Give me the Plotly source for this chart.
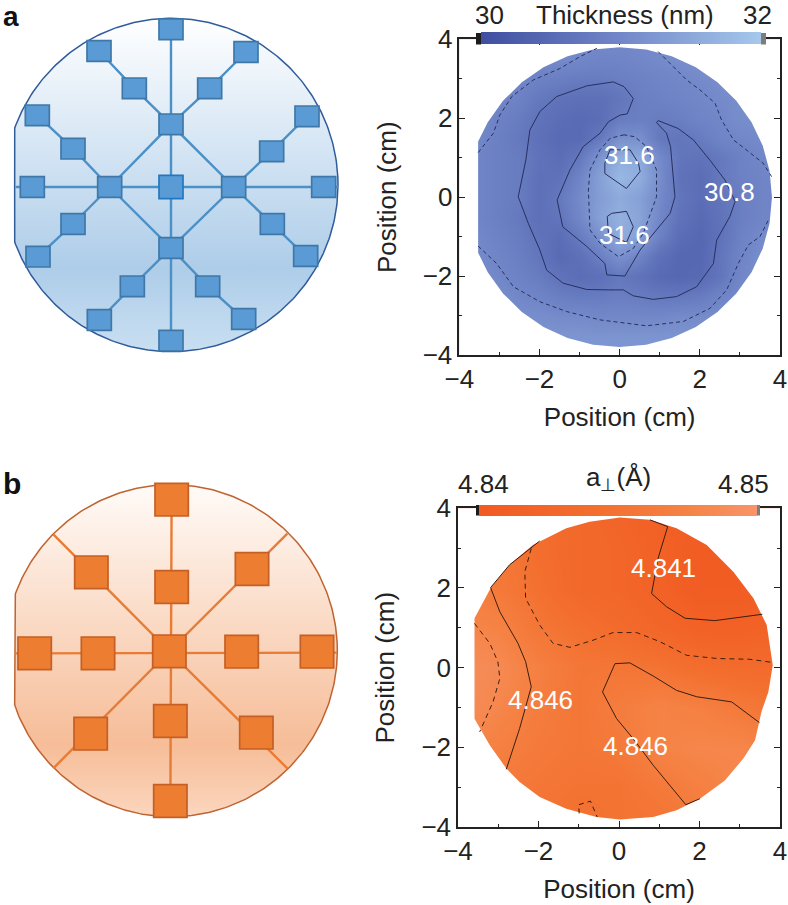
import plotly.graph_objects as go
import numpy as np

W, H = 788, 905

# ---------- wafer maps: grids ----------
thick_x = [-4,-3.5,-3,-2.5,-2,-1.5,-1,-.5,0,.5,1,1.5,2,2.5,3,3.5,4]
thick_y = [4,3.5,3,2.5,2,1.5,1,.5,0,-.5,-1,-1.5,-2,-2.5,-3,-3.5,-4]
thick_z = [
 [31.05]*17,
 [31.05,31.05,31.05,31.05,31.05,31.05,31.0,30.95,30.95,31.0,31.05,31.1,31.15,31.2,31.2,31.2,31.2],
 [31.05,31.05,31.05,31.0,30.9,30.85,30.8,30.8,30.85,30.9,30.95,31.0,31.05,31.1,31.15,31.2,31.2],
 [31.1,31.05,31.0,30.9,30.75,30.65,30.6,30.6,30.7,30.85,30.9,30.95,31.0,31.05,31.1,31.15,31.15],
 [31.05,31.05,30.9,30.8,30.65,30.55,30.5,30.55,30.8,30.85,30.8,30.85,30.95,31.0,31.1,31.1,31.1],
 [31.0,31.0,30.85,30.75,30.6,30.5,30.5,30.75,31.15,31.15,30.75,30.7,30.8,30.95,31.0,31.05,31.05],
 [30.95,30.95,30.85,30.8,30.65,30.55,30.75,31.2,31.6,31.55,31.05,30.7,30.65,30.75,30.9,31.0,31.0],
 [30.95,30.95,30.85,30.8,30.6,30.65,30.95,31.4,31.75,31.6,31.1,30.65,30.55,30.75,30.9,30.95,31.0],
 [30.95,30.95,30.85,30.8,30.6,30.75,31.05,31.35,31.55,31.4,31.05,30.7,30.55,30.7,30.85,30.95,31.0],
 [30.95,30.95,30.85,30.75,30.6,30.7,31.0,31.4,31.65,31.45,31.0,30.65,30.5,30.65,30.85,30.95,31.0],
 [31.0,31.0,30.9,30.8,30.65,30.55,30.8,31.15,31.6,31.4,30.9,30.55,30.45,30.65,30.9,31.05,31.05],
 [31.05,31.05,30.95,30.85,30.7,30.5,30.6,30.85,31.15,30.95,30.6,30.45,30.45,30.7,30.95,31.1,31.1],
 [31.1,31.1,31.0,30.9,30.8,30.65,30.55,30.6,30.75,30.65,30.5,30.45,30.5,30.7,31.0,31.1,31.1],
 [31.1,31.1,31.1,31.0,30.95,30.85,30.8,30.8,30.85,30.8,30.75,30.75,30.8,30.95,31.05,31.15,31.15],
 [31.15,31.15,31.15,31.1,31.1,31.05,31.05,31.0,31.0,31.0,31.0,31.05,31.05,31.1,31.1,31.15,31.15],
 [31.2]*17,
 [31.25]*17,
]
lat_x = [-4,-3,-2,-1,0,1,2,3,4]
lat_y = [4,3,2,1,0,-1,-2,-3,-4]
lat_z = [
 [4.845,4.845,4.844,4.843,4.842,4.841,4.841,4.841,4.841],
 [4.846,4.846,4.844,4.843,4.8425,4.8415,4.8405,4.8405,4.841],
 [4.847,4.846,4.8445,4.843,4.8425,4.8415,4.8405,4.8405,4.841],
 [4.848,4.8475,4.8455,4.8445,4.8435,4.8425,4.8415,4.8415,4.842],
 [4.849,4.8485,4.847,4.8455,4.8455,4.845,4.844,4.8435,4.8435],
 [4.849,4.848,4.8465,4.8455,4.8465,4.8475,4.847,4.846,4.845],
 [4.848,4.847,4.846,4.8455,4.846,4.8475,4.848,4.848,4.847],
 [4.847,4.846,4.8455,4.845,4.845,4.846,4.847,4.848,4.847],
 [4.846,4.845,4.8445,4.8445,4.845,4.845,4.846,4.846,4.846],
]

# wafer outlines on the maps (cm)
edge_a_x = [-3.53,-3.29,-2.91,-2.44,-1.90,-1.30,-0.66,0,0.66,1.30,1.90,2.44,2.91,3.29,3.57,3.74,3.80,3.74,3.57,3.29,2.91,2.44,1.90,1.30,0.66,0,-0.66,-1.30,-1.90,-2.44,-2.91,-3.29,-3.53]
edge_a_y = [1.41,1.90,2.44,2.91,3.29,3.57,3.74,3.80,3.74,3.57,3.29,2.91,2.44,1.90,1.30,0.66,0,-0.66,-1.30,-1.90,-2.44,-2.91,-3.29,-3.57,-3.74,-3.80,-3.74,-3.57,-3.29,-2.91,-2.44,-1.90,-1.41]
edge_b_x = [-3.59,-3.17,-2.72,-2.14,-1.31,-0.73,0.02,0.77,1.43,2.18,2.84,3.34,3.67,3.82,3.71,3.54,3.38,3.09,2.63,2.01,1.43,0.85,0.02,-0.56,-1.31,-1.97,-2.47,-2.80,-3.21,-3.59]
edge_b_y = [1.24,2.03,2.58,3.08,3.50,3.66,3.77,3.71,3.50,3.08,2.41,1.74,1.07,0.06,-0.61,-1.11,-1.82,-2.28,-2.83,-3.29,-3.58,-3.75,-3.81,-3.75,-3.54,-3.25,-2.87,-2.53,-1.95,-1.28]

# contour lines on the thickness map (cm)
a_dash1_x = [-3.53,-3.15,-2.99,-2.69,-2.15,-1.49,-0.99,-0.57]
a_dash1_y = [1.13,1.62,2.08,2.55,2.97,3.26,3.56,3.77]
a_dash2_x = [0.96,1.34,1.67,2.0,2.38,2.54,2.84,3.17,3.58,3.79]
a_dash2_y = [3.69,3.31,2.97,2.72,2.38,1.96,1.45,1.19,0.86,0.52]
a_dash3_x = [-3.53,-3.07,-2.65,-1.99,-1.32,-0.49,0.67,1.59,2.25,2.67,2.96,3.21,3.50,3.71]
a_dash3_y = [-1.24,-1.68,-2.27,-2.65,-2.90,-3.11,-3.26,-3.15,-2.82,-2.35,-1.68,-1.21,-1.0,-0.58]
a_dash4_x = [0.11,-0.24,-0.49,-0.74,-0.78,-0.74,-0.49,-0.03,0.34,0.59,0.92,0.92,0.67,0.38,0.11]
a_dash4_y = [1.58,1.49,1.20,0.69,0.18,-0.83,-1.17,-1.51,-1.30,-0.92,0.01,0.69,1.28,1.53,1.58]
a_solid1_x = [0.34,0.11,-0.16,-0.82,-1.57,-1.99,-2.24,-2.34,-2.53,-2.28,-1.99,-1.82,-1.41,-0.82,-0.28,0.09,0.34,0.84,1.42,1.92,2.34,2.42,2.75,2.88,2.63,2.25,1.84,1.46,0.96,0.92,1.17,1.27,1.38,1.26,0.92,0.51,0.13,-0.32,-0.37,-0.82,-1.42,-1.56,-1.24,-0.91,-0.49,-0.28,0.01,0.19,0.34]
a_solid1_y = [2.50,2.80,2.92,2.82,2.55,2.17,1.70,0.94,0.01,-0.66,-1.34,-1.85,-2.18,-2.34,-2.35,-2.35,-2.50,-2.59,-2.52,-2.27,-1.68,-1.09,-0.49,-0.11,0.43,0.94,1.45,1.74,1.94,1.89,1.62,1.28,0.01,-0.41,-0.83,-1.34,-2.0,-1.97,-1.68,-1.25,-0.75,-0.07,0.69,1.28,1.62,1.91,2.08,2.11,2.50]
a_solid2_x = [-0.37,0.17,0.51,0.47,0.26,-0.24,-0.37,-0.37]
a_solid2_y = [0.60,0.22,0.65,0.86,1.20,1.20,0.86,0.60]
a_solid3_x = [-0.31,-0.20,0.17,0.34,0.17,-0.28,-0.31]
a_solid3_y = [-0.49,-0.41,-0.36,-0.75,-1.15,-0.92,-0.49]

# contour lines on the lattice map (cm)
b_solid1_x = [0.77,1.21,0.97,0.81,1.18,1.64,2.38,3.56]
b_solid1_y = [3.71,3.54,2.74,1.86,1.53,1.24,1.18,1.34]
b_solid2_x = [-1.97,-2.72,-3.19,-2.96,-2.51,-2.32,-2.18,-2.47,-2.80]
b_solid2_y = [3.18,2.58,2.01,1.40,0.61,0.15,-0.48,-1.53,-2.55]
b_solid3_x = [3.49,2.80,1.93,1.43,0.85,0.27,-0.10,-0.41,-0.06,0.35,0.85,1.66,2.01]
b_solid3_y = [-1.38,-0.86,-0.73,-0.57,-0.21,0.12,0.10,-0.61,-1.28,-1.78,-2.45,-3.44,-3.29]
b_dash1_x = [-2.18,-2.34,-2.32,-1.97,-1.64,-1.22,-0.64,-0.15,0.44,1.02,1.68,2.43,3.25,3.82]
b_dash1_y = [2.99,2.41,1.74,1.07,0.61,0.51,0.69,0.88,0.88,0.65,0.31,0.23,0.21,0.13]
b_dash2_x = [-3.59,-3.21,-3.01,-2.96,-3.13,-3.46]
b_dash2_y = [1.11,0.61,0.15,-0.27,-0.86,-1.61]
b_dash3_x = [-0.99,-1.0,-0.71,-0.54]
b_dash3_y = [-3.66,-3.44,-3.35,-3.75]

# map labels
a_label_text = ["31.6","31.6","30.8"]
a_label_x = [0.24,0.13,2.75]
a_label_y = [1.07,-0.96,0.14]
b_label_text = ["4.841","4.846","4.846"]
b_label_x = [1.10,-1.94,0.42]
b_label_y = [2.49,-0.80,-1.97]

# ---------- schematics: site layouts in sketch units ----------
a_sites_x = [513,297,738,403,629,513,112,921,219,815,329,701,97,971,219,817,114,917,513,397,623,298,731,513]
a_sites_y = [88,153,156,265,265,373,346,349,446,454,561,561,561,561,672,672,770,768,744,859,859,960,957,1022]
a_centre = (513,561)
a_links = [
 ([513,513],[88,1022]), ([47,1014],[561,561]),
 ([329,513,701,513,329],[561,373,561,744,561]),
 ([297,403,513],[153,265,373]), ([738,629,513],[156,265,373]),
 ([112,219,329],[346,446,561]), ([921,815,701],[349,454,561]),
 ([114,219,329],[770,672,561]), ([917,817,701],[768,672,561]),
 ([298,397,513],[960,859,744]), ([731,623,513],[957,859,744]),
]
b_sites_x = [515,274,756,515,104,294,508,725,951,272,769,511,511]
b_sites_y = [104,322,312,366,565,565,559,560,560,806,803,768,1008]
b_links = [
 ([515,511],[62,1052]), ([44,1012],[565,563]),
 ([160,508,862],[208,559,206]), ([160,508,862],[910,559,910]),
]

FONT = "Liberation Sans"
INK = "#222222"

fig = go.Figure()
ax = lambda n: ("x" if n == 1 else f"x{n}", "y" if n == 1 else f"y{n}")

def px_x(v): return v / W
def px_y(v): return 1 - v / H

def wafer(cx, cy, r, flat):
    th = np.radians(np.linspace(0, 360, 361))
    xs, ys = cx + r*np.cos(th), cy + r*np.sin(th)
    xs = np.maximum(xs, flat)
    return xs, ys

def schematic(n, sx, sy, links, half_w, half_h, outline, grad, fill, edge, link, cx, cy, r, flat, centre=None):
    xa, ya = ax(n)
    xs, ys = wafer(cx, cy, r, flat)
    fig.add_trace(go.Scatter(x=xs, y=ys, xaxis=xa, yaxis=ya, mode="lines", fill="toself",
        line=dict(color=outline, width=1.5), hoverinfo="skip",
        fillgradient=dict(type="vertical", colorscale=grad)))
    for lx, ly in links:
        fig.add_trace(go.Scatter(x=lx, y=ly, xaxis=xa, yaxis=ya, mode="lines",
            line=dict(color=link, width=2.4), hoverinfo="skip"))
    for x, y in zip(sx, sy):
        fig.add_shape(type="rect", xref=xa, yref=ya, x0=x-half_w, x1=x+half_w, y0=y-half_h, y1=y+half_h,
            fillcolor=fill, line=dict(color=edge, width=1.7))
    if centre:
        fig.add_shape(type="rect", xref=xa, yref=ya, x0=centre[0]-36, x1=centre[0]+36, y0=centre[1]-35, y1=centre[1]+35,
            fillcolor=fill, line=dict(color="#2178c0", width=1.7))

schematic(1, a_sites_x, a_sites_y, a_links, 36, 31, "#2f5c9c",
    [[0,"#c9dff1"],[0.25,"#aecde9"],[1,"#ffffff"]], "#5b9bd5", "#3f78a8", "#4b90c6", 514, 555, 500, 44, a_centre)
schematic(3, b_sites_x, b_sites_y, b_links, 50, 49, "#bf6330",
    [[0,"#fbd6be"],[0.22,"#f6bd98"],[1,"#fffbf8"]], "#ed7d31", "#c55f25", "#e97c35", 514, 557, 498, 44)

def wafer_map(n, x, y, z, zmin, zmax, scale, ex, ey, cb):
    xa, ya = ax(n)
    fig.add_trace(go.Heatmap(x=x, y=y, z=z, xaxis=xa, yaxis=ya, zmin=zmin, zmax=zmax, zsmooth="best",
        colorscale=scale, hoverinfo="skip",
        colorbar=dict(orientation="h", thickness=cb["h"], thicknessmode="pixels", len=cb["x1"]-cb["x0"], lenmode="pixels",
            x=px_x(cb["x0"]), xanchor="left", y=px_y(cb["y1"]), yanchor="bottom", xpad=0, ypad=0,
            outlinewidth=0, ticks="", showticklabels=False)))
    # white surround outside the wafer edge
    mx = list(ex) + [ex[0], -4.4, -4.4, 4.4, 4.4, -4.4, -4.4, ex[0]]
    my = list(ey) + [ey[0], ey[0], -4.4, -4.4, 4.4, 4.4, ey[0], ey[0]]
    fig.add_trace(go.Scatter(x=mx, y=my, xaxis=xa, yaxis=ya, mode="lines", fill="toself", fillcolor="white",
        line=dict(width=0), hoverinfo="skip"))

def lines(n, pairs, dash, color):
    xa, ya = ax(n)
    for lx, ly in pairs:
        fig.add_trace(go.Scatter(x=lx, y=ly, xaxis=xa, yaxis=ya, mode="lines", hoverinfo="skip",
            line=dict(color=color, width=1, dash=dash)))

cb_a = dict(x0=481, x1=761, y0=33, y1=44.5, h=11.5)
cb_b = dict(x0=479, x1=757, y0=505, y1=515.5, h=10.5)
wafer_map(2, thick_x, thick_y, thick_z, 30, 32,
    [[0,"#3f4ea0"],[0.5,"#7287c8"],[1,"#a5c8ec"]], edge_a_x, edge_a_y, cb_a)
wafer_map(4, lat_x, lat_y, lat_z, 4.84, 4.85,
    [[0,"#f15a22"],[0.45,"#f3702f"],[0.75,"#f58345"],[1,"#f8946a"]], edge_b_x, edge_b_y, cb_b)
lines(2, [(a_solid1_x,a_solid1_y),(a_solid2_x,a_solid2_y),(a_solid3_x,a_solid3_y)], "solid", "#28305f")
lines(2, [(a_dash1_x,a_dash1_y),(a_dash2_x,a_dash2_y),(a_dash3_x,a_dash3_y),(a_dash4_x,a_dash4_y)], "4px,3px", "#28305f")
lines(4, [(b_solid1_x,b_solid1_y),(b_solid2_x,b_solid2_y),(b_solid3_x,b_solid3_y)], "solid", "#3a1f10")
lines(4, [(b_dash1_x,b_dash1_y),(b_dash2_x,b_dash2_y),(b_dash3_x,b_dash3_y)], "5px,4px", "#3a1f10")

hidden = dict(visible=False, fixedrange=True)
def map_axis(domain, title, standoff):
    return dict(domain=domain, range=[-4,4], dtick=2, tick0=-4, ticks="inside", ticklen=6, tickwidth=1.2,
        tickcolor="#222222", showgrid=False, zeroline=False, showline=True, linecolor="#222222", linewidth=1.5,
        mirror="ticks", title=dict(text=title, standoff=standoff, font=dict(size=26, family=FONT, color=INK)),
        tickfont=dict(size=26, family=FONT, color=INK),
        minor=dict(dtick=1, tick0=-3, ticks="inside", ticklen=3, tickwidth=1.2, tickcolor="#222222", showgrid=False))

fig.update_layout(
    width=W, height=H, margin=dict(l=0,r=0,t=0,b=0,autoexpand=False), paper_bgcolor="white", plot_bgcolor="white",
    showlegend=False, font=dict(family=FONT, color=INK),
    xaxis=dict(domain=[0,350/W], range=[0,1050], **hidden),
    yaxis=dict(domain=[px_y(370),1], range=[1110,0], **hidden),
    xaxis3=dict(domain=[0,350/W], range=[0,1050], anchor="y3", **hidden),
    yaxis3=dict(domain=[px_y(835),px_y(465)], range=[1110,0], anchor="x3", **hidden),
)
fig.update_layout(
    xaxis2=dict(anchor="y2", **map_axis([px_x(459.3),px_x(780)], "Position (cm)", 15)),
    yaxis2=dict(anchor="x2", **map_axis([px_y(355),px_y(39.3)], "Position (cm)", 19)),
    xaxis4=dict(anchor="y4", **map_axis([px_x(458),px_x(780)], "Position (cm)", 15)),
    yaxis4=dict(anchor="x4", **map_axis([px_y(827),px_y(508.3)], "Position (cm)", 19)),
)

def note(text, x, y, size=26, color=INK, bold=False):
    fig.add_annotation(text=f"<b>{text}</b>" if bold else text, xref="paper", yref="paper", x=px_x(x), y=px_y(y),
        showarrow=False, xanchor="center", yanchor="middle", font=dict(size=size, color=color, family=FONT))

note("a", 11, 17, size=28, color="#111111", bold=True)
note("b", 12, 483, size=30, color="#111111", bold=True)
note("30", 489, 15.5); note("Thickness (nm)", 625, 15.5, size=26); note("32", 757, 15.5)
note("4.84", 483, 484); note("4.85", 743, 484)
note("a<sub>⊥</sub>(Å)", 618, 478, size=26)

for n, texts, xs, ys in ((2, a_label_text, a_label_x, a_label_y), (4, b_label_text, b_label_x, b_label_y)):
    xa, ya = ax(n)
    for t, x, y in zip(texts, xs, ys):
        fig.add_annotation(text=t, x=x, y=y, xref=xa, yref=ya, showarrow=False,
            font=dict(size=26, color="white", family=FONT))

# colour bar end caps
for c in (cb_a, cb_b):
    w = 5 if c is cb_a else 3
    fig.add_shape(type="rect", xref="paper", yref="paper", x0=px_x(c["x0"]-w), x1=px_x(c["x0"]), y0=px_y(c["y1"]), y1=px_y(c["y0"]),
        fillcolor="#1c1c1c", line=dict(width=0))
    fig.add_shape(type="rect", xref="paper", yref="paper", x0=px_x(c["x1"]), x1=px_x(c["x1"]+w), y0=px_y(c["y1"]), y1=px_y(c["y0"]),
        fillcolor="#7d7d7d", line=dict(width=0))

fig.write_html("out.html", config=dict(displayModeBar=False),
    post_script="document.body.style.margin='0';document.documentElement.style.overflow='hidden';")
